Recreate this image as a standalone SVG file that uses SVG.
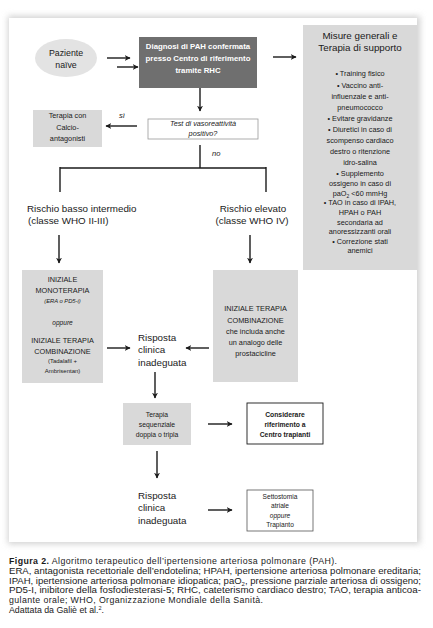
<svg xmlns="http://www.w3.org/2000/svg" width="433" height="628" viewBox="0 0 433 628">
<style>
text{font-family:"Liberation Sans",Arial,sans-serif;fill:#1a1a1a}
.c{text-anchor:middle}
.s{font-size:7.3px}
.m{font-size:7.8px}
.b{font-weight:bold}
.i{font-style:italic}
.r{font-size:9.8px}
.w{fill:#ffffff}
.ln{stroke:#1a1a1a;stroke-width:1.4;fill:none}
.cap{font-size:8.8px}
</style>
<defs>
<marker id="ah" viewBox="0 0 10 10" refX="9" refY="5" markerWidth="6" markerHeight="6" orient="auto" markerUnits="userSpaceOnUse">
<path d="M0,0 L10,5 L0,10 L3,5 Z" fill="#1a1a1a"/>
</marker>
<filter id="sh" x="-5%" y="-5%" width="110%" height="110%">
<feGaussianBlur stdDeviation="3"/>
</filter>
</defs>
<rect width="433" height="628" fill="#ffffff"/>
<rect x="8" y="16" width="412" height="528" fill="#d0d0d0" filter="url(#sh)"/>
<rect x="9" y="18" width="408" height="524" fill="#ffffff"/>

<g id="paziente">
<ellipse cx="66" cy="58" rx="31" ry="19" fill="#e3e3e3"/>
<text class="c" x="66" y="56" font-size="8.8">Paziente</text>
<text class="c" x="66" y="68" font-size="8.8">naïve</text>
</g>
<g id="diagnosi">
<rect x="139" y="37" width="118" height="51" fill="#6f6f6f"/>
<text class="c m b w" x="198" y="49">Diagnosi di PAH confermata</text>
<text class="c m b w" x="198" y="61">presso Centro di riferimento</text>
<text class="c m b w" x="198" y="73">tramite RHC</text>
</g>
<g id="misure">
<rect x="303" y="25" width="114" height="245" fill="#d9d9d9"/>
<text class="c" x="360" y="38.5" font-size="9.8">Misure generali e</text>
<text class="c" x="360" y="50.5" font-size="9.8">Terapia di supporto</text>
<text class="c s" x="360" y="76">•  Training fisico</text>
<text class="c s" x="360" y="87.5">•  Vaccino anti-</text>
<text class="c s" x="360" y="98.5">influenzale e anti-</text>
<text class="c s" x="360" y="109.5">pneumococco</text>
<text class="c s" x="360" y="120.5">•  Evitare gravidanze</text>
<text class="c s" x="360" y="131.5">•  Diuretici in caso di</text>
<text class="c s" x="360" y="142.5">scompenso cardiaco</text>
<text class="c s" x="360" y="153.5">destro o ritenzione</text>
<text class="c s" x="360" y="164.5">idro-salina</text>
<text class="c s" x="360" y="176">•  Supplemento</text>
<text class="c s" x="360" y="186">ossigeno in caso di</text>
<text class="c s" x="360" y="195.5">paO<tspan font-size="5" dy="2">2</tspan><tspan dy="-2"> &lt;60 mmHg</tspan></text>
<text class="c s" x="360" y="205">•  TAO in caso di IPAH,</text>
<text class="c s" x="360" y="215">HPAH o PAH</text>
<text class="c s" x="360" y="224.5">secondaria ad</text>
<text class="c s" x="360" y="233.5">anoressizzanti orali</text>
<text class="c s" x="360" y="243.5">•  Correzione stati</text>
<text class="c s" x="360" y="253">anemici</text>
</g>
<g id="test">
<rect x="148" y="119" width="110" height="20" fill="#ffffff" stroke="#9a9a9a" stroke-width="0.8"/>
<text class="c s i" x="203" y="126">Test di vasoreattività</text>
<text class="c s i" x="203" y="136">positivo?</text>
</g>
<g id="calcio">
<rect x="33" y="110" width="69" height="37" fill="#d9d9d9"/>
<text class="c s" x="67.5" y="118">Terapia con</text>
<text class="c s" x="67.5" y="129.5">Calcio-</text>
<text class="c s" x="67.5" y="140.5">antagonisti</text>
</g>
<g id="rischio-basso">
<text class="r" x="27" y="211.5">Rischio basso intermedio</text>
<text class="r" x="28" y="223.5">(classe WHO II-III)</text>
</g>
<g id="rischio-elevato">
<text class="r c" x="253" y="211.5">Rischio elevato</text>
<text class="r c" x="252" y="223.5">(classe WHO IV)</text>
</g>
<g id="monoterapia">
<rect x="22" y="270" width="81" height="113" fill="#d9d9d9"/>
<text class="c s" x="62.5" y="282">INIZIALE</text>
<text class="c s" x="62.5" y="293">MONOTERAPIA</text>
<text class="c i" x="62.5" y="302.5" font-size="5.8">(ERA o PD5-i)</text>
<text class="c i" x="62.5" y="324.5" font-size="6.6">oppure</text>
<text class="c s" x="62.5" y="343">INIZIALE TERAPIA</text>
<text class="c s" x="62.5" y="353.5">COMBINAZIONE</text>
<text class="c" x="62.5" y="363" font-size="6">(Tadalafil +</text>
<text class="c" x="62.5" y="372.5" font-size="6">Ambrisentan)</text>
</g>
<g id="combinazione">
<rect x="213" y="270" width="85" height="112" fill="#d9d9d9"/>
<text class="c s" x="255.5" y="311">INIZIALE TERAPIA</text>
<text class="c s" x="255.5" y="322.5">COMBINAZIONE</text>
<text class="c s" x="255.5" y="334">che includa anche</text>
<text class="c s" x="255.5" y="345">un analogo delle</text>
<text class="c s" x="255.5" y="356">prostacicline</text>
</g>
<g id="risposta1">
<text class="r" x="138" y="340.5">Risposta</text>
<text class="r" x="138" y="353">clinica</text>
<text class="r" x="138" y="365.5">inadeguata</text>
</g>
<g id="sequenziale">
<rect x="123" y="403" width="68" height="42" fill="#d9d9d9"/>
<text class="c" x="157" y="416.5" font-size="6.8">Terapia</text>
<text class="c" x="157" y="426.5" font-size="6.8">sequenziale</text>
<text class="c" x="157" y="436.5" font-size="6.8">doppia o tripla</text>
</g>
<g id="trapianti">
<rect x="247" y="403" width="76" height="41" fill="#ffffff" stroke="#1a1a1a" stroke-width="0.9"/>
<text class="c b" x="285" y="416.5" font-size="6.8">Considerare</text>
<text class="c b" x="285" y="426.5" font-size="6.8">riferimento a</text>
<text class="c b" x="285" y="436.5" font-size="6.8">Centro trapianti</text>
</g>
<g id="risposta2">
<text class="r" x="138" y="498.5">Risposta</text>
<text class="r" x="138" y="511">clinica</text>
<text class="r" x="138" y="523.5">inadeguata</text>
</g>
<g id="settostomia">
<rect x="247" y="490" width="66" height="41" fill="#ffffff" stroke="#555555" stroke-width="0.8"/>
<text class="c" x="280" y="498.5" font-size="6.6">Settostomia</text>
<text class="c" x="280" y="508" font-size="6.6">atriale</text>
<text class="c i" x="280" y="517.5" font-size="6.6">oppure</text>
<text class="c" x="280" y="527" font-size="6.6">Trapianto</text>
</g>

<g id="connectors">
<line class="ln" x1="107" y1="58" x2="130" y2="58" marker-end="url(#ah)"/>
<line class="ln" x1="117" y1="67" x2="138" y2="67" marker-end="url(#ah)"/>
<line class="ln" x1="273" y1="57" x2="296" y2="57" marker-end="url(#ah)"/>
<line class="ln" x1="200" y1="88" x2="200" y2="111" marker-end="url(#ah)"/>
<line class="ln" x1="137" y1="126" x2="106" y2="126" marker-end="url(#ah)"/>
<text class="i" x="119" y="117.5" font-size="7.6">sì</text>
<line class="ln" x1="200" y1="145" x2="200" y2="168"/>
<text class="i" x="212" y="155.5" font-size="7.6">no</text>
<line class="ln" x1="60" y1="168" x2="266" y2="168" stroke-width="1.8"/>
<line class="ln" x1="60" y1="167" x2="60" y2="192"/>
<line class="ln" x1="266" y1="167" x2="266" y2="192" stroke-width="1.8"/>
<line class="ln" x1="59" y1="235" x2="59" y2="263" marker-end="url(#ah)"/>
<line class="ln" x1="250" y1="235" x2="250" y2="263" marker-end="url(#ah)"/>
<line class="ln" x1="107" y1="348" x2="130" y2="348" marker-end="url(#ah)"/>
<line class="ln" x1="209" y1="348" x2="186" y2="348" marker-end="url(#ah)"/>
<line class="ln" x1="155" y1="372" x2="155" y2="398" marker-end="url(#ah)"/>
<line class="ln" x1="208" y1="424" x2="232" y2="424" marker-end="url(#ah)"/>
<line class="ln" x1="157" y1="451" x2="157" y2="478" marker-end="url(#ah)"/>
<line class="ln" x1="208" y1="510" x2="232" y2="510" marker-end="url(#ah)"/>
</g>

<g id="caption">
<text class="cap" x="9" y="564" textLength="328" lengthAdjust="spacing"><tspan font-weight="bold">Figura 2.</tspan> Algoritmo terapeutico dell’ipertensione arteriosa polmonare (PAH).</text>
<text class="cap" x="9" y="574" textLength="412" lengthAdjust="spacingAndGlyphs">ERA, antagonista recettoriale dell’endotelina; HPAH, ipertensione arteriosa polmonare ereditaria;</text>
<text class="cap" x="9" y="583.5" textLength="412" lengthAdjust="spacingAndGlyphs">IPAH, ipertensione arteriosa polmonare idiopatica; paO<tspan font-size="5.5" dy="2">2</tspan><tspan dy="-2">, pressione parziale arteriosa di ossigeno;</tspan></text>
<text class="cap" x="9" y="593" textLength="412" lengthAdjust="spacingAndGlyphs">PD5-I, inibitore della fosfodiesterasi-5; RHC, cateterismo cardiaco destro; TAO, terapia anticoa-</text>
<text class="cap" x="9" y="603" textLength="254" lengthAdjust="spacing">gulante orale; WHO, Organizzazione Mondiale della Sanità.</text>
<text class="cap" x="9" y="612.5">Adattata da Galiè et al.<tspan font-size="5.5" dy="-3">2</tspan><tspan dy="3">.</tspan></text>
</g>
</svg>
